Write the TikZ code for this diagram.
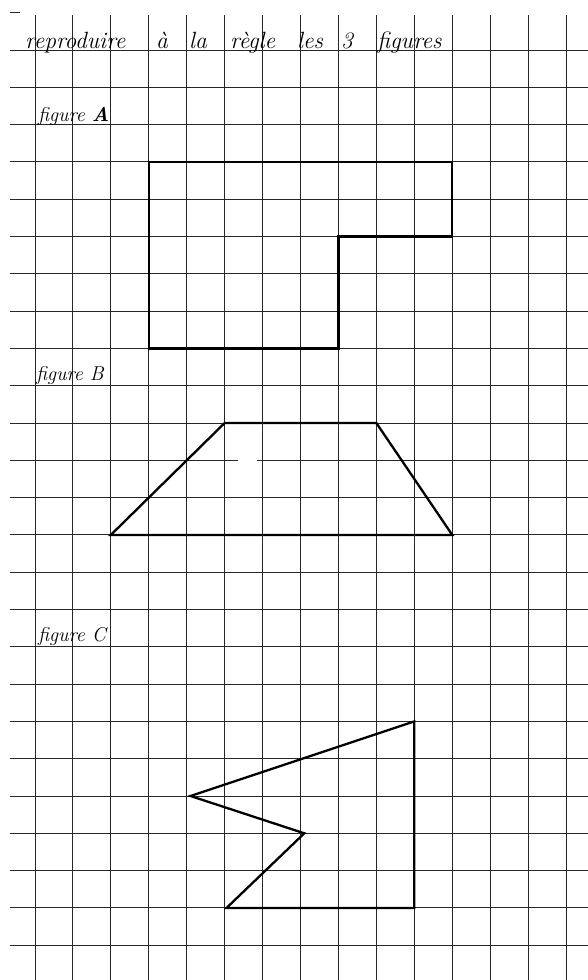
\documentclass[tikz,border=0pt]{standalone}
\begin{document}
\begin{tikzpicture}[x=1pt,y=-1pt,
  gridline/.style={line width=0.9pt, black!85},
  figline/.style={line width=2.3pt, black, line join=miter},
  hand/.style={font=\fontsize{23.5}{27}\selectfont\itshape, anchor=base west, inner sep=0pt},
  label/.style={font=\fontsize{20}{24}\selectfont\itshape, anchor=base west, inner sep=0pt}]
\useasboundingbox (0,0) rectangle (588,980);
\fill[white] (0,0) rectangle (588,980);
% small dash top left
\draw[gridline] (10,12) -- (20,12);
% horizontal grid lines
\foreach \k in {0,...,10,12,13,...,24}
  \draw[gridline] (10,{50+37.3*\k}) -- (588,{50+37.3*\k});
\draw[gridline] (10,{50+37.3*11}) -- (238,{50+37.3*11});
\draw[gridline] (257,{50+37.3*11}) -- (588,{50+37.3*11});
% vertical grid lines
\foreach \j in {0,...,14}
  \draw[gridline] ({35+37.93*\j},15) -- ({35+37.93*\j},980);
% grid-aligned coordinate system
\begin{scope}[x=37.93pt,y=-37.3pt,shift={(35pt,-50pt)}]
  % figure A
  \coordinate (a1) at (3,3);
  \coordinate (a2) at (11,3);
  \coordinate (a3) at (11,5);
  \coordinate (a4) at (8,5);
  \coordinate (a5) at (8,8);
  \coordinate (a6) at (3,8);
  \draw[figline] (a1) -- (a2) -- (a3) -- (a4) -- (a5) -- (a6) -- cycle;
  % figure B
  \coordinate (b1) at (2,13);
  \coordinate (b2) at (5,10);
  \coordinate (b3) at (9,10);
  \coordinate (b4) at (11,13);
  \draw[figline] (b1) -- (b2) -- (b3) -- (b4) -- cycle;
  % figure C
  \coordinate (c1) at (10,18);
  \coordinate (c2) at (4.1,20);
  \coordinate (c3) at (7.1,21);
  \coordinate (c4) at (5.05,23);
  \coordinate (c5) at (10,23);
  \draw[figline] (c1) -- (c2) -- (c3) -- (c4) -- (c5) -- cycle;
\end{scope}
% title words
\node[hand] (w1) at (25,48) {reproduire};
\node[hand] (w2) at (156,48) {à};
\node[hand] (w3) at (189,48) {la};
\node[hand] (w4) at (230,48) {règle};
\node[hand] (w5) at (297,48) {les};
\node[hand] (w6) at (341,48) {3};
\node[hand] (w7) at (377,48) {figures};
% labels
\node[label] (la) at (38,121) {figure \textbf{A}};
\node[label] (lb) at (36,380) {figure B};
\node[label] (lc) at (38,641) {figure C};
\end{tikzpicture}
\end{document}
